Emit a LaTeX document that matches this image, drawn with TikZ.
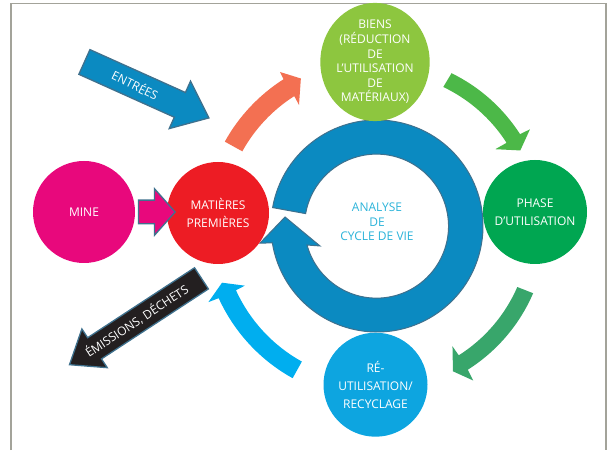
\documentclass[tikz,border=0pt]{standalone}
\usepackage{fontspec}
\setmainfont{Open Sans}
\usetikzlibrary{shapes.arrows,shapes.geometric,calc}

\definecolor{frameclr}{HTML}{A3A39A}
\definecolor{mineclr}{HTML}{E8087C}
\definecolor{matclr}{HTML}{ED1C24}
\definecolor{biensclr}{HTML}{8DC63F}
\definecolor{phaseclr}{HTML}{00A651}
\definecolor{recyclr}{HTML}{0DA5E0}
\definecolor{ringclr}{HTML}{0B8AC1}
\definecolor{edgeclr}{HTML}{3F718E}
\definecolor{orangeclr}{HTML}{F37052}
\definecolor{greenclr}{HTML}{4CB848}
\definecolor{dkgreenclr}{HTML}{38A66B}
\definecolor{skyclr}{HTML}{00AEEF}
\definecolor{blackclr}{HTML}{231F20}
\definecolor{analyseclr}{HTML}{2BB3D9}

\tikzset{
  stage/.style={circle,minimum size=102pt,inner sep=0pt,align=center,text=white,
    font=\fontsize{12}{18}\selectfont},
  blockarrow/.style={single arrow,draw=edgeclr,line width=1.3pt,inner xsep=0pt,
    minimum width=0pt,anchor=tail},
  arrowtext/.style={text=white,font=\fontsize{12}{14}\selectfont}
}

\begin{document}
\begin{tikzpicture}[x=1pt,y=1pt]
\useasboundingbox (0,0) rectangle (608,450);
\draw[frameclr,line width=1.5pt] (11,0) -- (11,446.5) -- (606,446.5) -- (606,0);

\coordinate (lca) at (377,224);

\begin{scope}[shift={(lca)}]
\fill[orangeclr] (151:174) arc[start angle=151,end angle=122.5,radius=174] -- (122.2:182)
  -- (117.3:166) -- (122.8:144) -- (122.5:154) arc[start angle=122.5,end angle=151,radius=154] -- cycle;
\fill[greenclr] (64:170) arc[start angle=64,end angle=32.7,radius=170] -- (32.3:181)
  -- (27.8:162) -- (33:141) -- (32.7:154) arc[start angle=32.7,end angle=64.5,radius=154] -- cycle;
\fill[dkgreenclr] (-23.3:170) arc[start angle=-23.3,end angle=-57.7,radius=170] -- (-58.1:182)
  -- (-62.4:164) -- (-57.9:142) -- (-57.7:153) arc[start angle=-57.7,end angle=-23.5,radius=153] -- cycle;
\fill[skyclr] (241:174) arc[start angle=241,end angle=204.5,radius=174] -- (204.3:185)
  -- (200.1:165) -- (204.3:145) -- (204.5:155) arc[start angle=204.5,end angle=241,radius=155] -- cycle;
\filldraw[fill=ringclr,draw=edgeclr,line width=1pt] (170:106) arc[start angle=170,end angle=-170.8,radius=106]
  -- (-171.7:118.2) -- (174.4:92.4) -- (-160.7:60.4) -- (-164.8:72.5)
  arc[start angle=-164.8,end angle=170,radius=72] -- cycle;
\end{scope}

\node[analyseclr,align=center,font=\fontsize{12}{14.5}\selectfont] (lcatext) at ([yshift=4pt]lca) {ANALYSE\\DE\\CYCLE DE VIE};

\node[stage,fill=mineclr] (mine) at (84,238) {MINE};
\node[stage,fill=matclr] (matieres) at (218,237) {MATIÈRES\\PREMIÈRES};
\node[stage,ellipse,minimum width=104pt,minimum height=112pt,fill=biensclr,
  font=\fontsize{12}{14.6}\selectfont] (biens) at (375,388)
  {BIENS\\(RÉDUCTION\\DE\\L’UTILISATION\\DE\\MATÉRIAUX)};
\node[stage,minimum size=104pt,fill=phaseclr] (phase) at (535,238) {PHASE\\D’UTILISATION};
\node[stage,minimum size=104pt,fill=recyclr] (recyclage) at (375.5,65.3) {\raisebox{-3pt}{\parbox{80pt}{\centering RÉ-\\UTILISATION/\\RECYCLAGE}}};

\node[blockarrow,fill=mineclr,inner ysep=11.2pt,single arrow head extend=11.3pt,
  single arrow tip angle=96.8,minimum height=36.6pt] (extraction) at ([xshift=2.7pt]mine.east) {};

\node[blockarrow,fill=ringclr,inner ysep=12.9pt,single arrow head extend=12.5pt,
  single arrow tip angle=78.6,minimum height=136.5pt,rotate=-24.2] (entrees) at (83.8,388.3) {};
\node[arrowtext,rotate=-26] at ($(entrees.tail)!0.41!(entrees.tip)$) {ENTRÉES};

\node[blockarrow,fill=blackclr,inner ysep=12pt,single arrow head extend=10.5pt,
  single arrow tip angle=75.4,minimum height=157.7pt,rotate=213.2] (emissions) at (202,172) {};
\node[arrowtext,rotate=33.2] at ($(emissions.tail)!0.49!(emissions.tip)$) {ÉMISSIONS, DÉCHETS};
\end{tikzpicture}
\end{document}
